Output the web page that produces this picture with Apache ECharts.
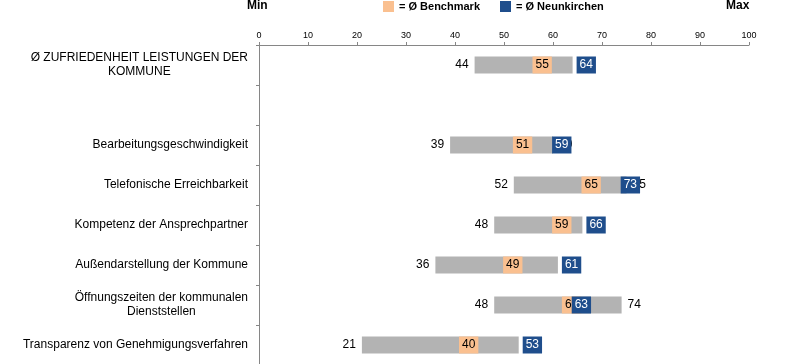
<!DOCTYPE html>
<html>
<head>
<meta charset="utf-8">
<script src="https://cdn.jsdelivr.net/npm/echarts@6/dist/echarts.min.js"></script>
<style>html,body{margin:0;padding:0;background:#fff}#c{width:800px;height:364px}</style>
</head>
<body>
<div id="c"></div>
<script>
const categories = ['Ø ZUFRIEDENHEIT LEISTUNGEN DER\nKOMMUNE', '', 'Bearbeitungsgeschwindigkeit', 'Telefonische Erreichbarkeit', 'Kompetenz der Ansprechpartner', 'Außendarstellung der Kommune', 'Öffnungszeiten der kommunalen\nDienststellen', 'Transparenz von Genehmigungsverfahren'];
const minValues = [44, null, 39, 52, 48, 36, 48, 21];
const maxValues = [64, null, 60, 75, 66, 61, 74, 53];
const benchmark = [55, null, 51, 65, 59, 49, 61, 40];
const neunkirchen = [64, null, 59, 73, 66, 61, 63, 53];
const xTicks = {min: 0, max: 100, interval: 10};
const seriesNames = ['= Ø Benchmark', '= Ø Neunkirchen'];

const FONT = '"Liberation Sans", Arial, sans-serif';
const chart = echarts.init(document.getElementById('c'), null, {renderer: 'canvas'});

const rangeData = minValues.map((m, i) => (m == null ? null : maxValues[i] - m));
const benchPts = benchmark.map((v, i) => (v == null ? null : [v, i])).filter(Boolean);
const ownPts = neunkirchen.map((v, i) => (v == null ? null : [v, i])).filter(Boolean);

chart.setOption({
  animation: false,
  textStyle: {fontFamily: FONT},
  grid: {left: 259, right: 51, top: 45, height: 320, containLabel: false, outerBoundsMode: 'none'},
  legend: {
    left: 383, top: 1, padding: 0, icon: 'rect', itemWidth: 11, itemHeight: 11, itemGap: 20,
    data: seriesNames,
    itemStyle: {opacity: 1},
    textStyle: {fontFamily: FONT, fontWeight: 'bold', fontSize: 11, color: '#000'}
  },
  graphic: [
    {type: 'text', left: 247, top: 0, style: {text: 'Min', font: 'bold 12px ' + FONT, fill: '#000'}},
    {type: 'text', left: 726, top: 0, style: {text: 'Max', font: 'bold 12px ' + FONT, fill: '#000'}}
  ],
  xAxis: {
    type: 'value', position: 'top', min: xTicks.min, max: xTicks.max, interval: xTicks.interval,
    axisLine: {show: true, lineStyle: {color: '#868686', width: 1}},
    axisTick: {show: true, length: 3, lineStyle: {color: '#868686'}},
    axisLabel: {fontSize: 9, color: '#000', margin: 5, fontFamily: FONT},
    splitLine: {show: false}
  },
  yAxis: {
    type: 'category', inverse: true, data: categories,
    axisLine: {show: true, lineStyle: {color: '#868686', width: 1}},
    axisTick: {show: true, length: 3, lineStyle: {color: '#868686'}},
    axisLabel: {
      margin: 11, color: '#000', fontSize: 12, fontFamily: FONT, lineHeight: 14,
      formatter: v => v.split('\n').map(s => '{c|' + s + '}').join('\n'),
      rich: {c: {align: 'center', fontSize: 12, lineHeight: 14, color: '#000', fontFamily: FONT}}
    },
    splitLine: {show: false}
  },
  series: [
    {
      type: 'bar', stack: 'r', data: minValues, barWidth: 17, z: 2,
      itemStyle: {color: 'rgba(0,0,0,0)'},
      label: {show: true, position: 'insideRight', distance: 6, fontSize: 12, color: '#000', fontFamily: FONT,
        formatter: p => (p.value == null ? '' : String(p.value))},
      emphasis: {disabled: true}
    },
    {
      type: 'bar', stack: 'r', data: rangeData, barWidth: 17, z: 2,
      itemStyle: {color: '#B3B3B3'},
      label: {show: true, position: 'right', distance: 6, fontSize: 12, color: '#000', fontFamily: FONT,
        formatter: p => (maxValues[p.dataIndex] == null ? '' : String(maxValues[p.dataIndex]))},
      emphasis: {disabled: true}
    },
    {
      name: seriesNames[0], type: 'scatter', data: benchPts, symbolSize: 0, z: 4,
      itemStyle: {color: '#FAC090', opacity: 1},
      label: {show: true, position: 'right', distance: 4, fontSize: 12, lineHeight: 13, color: '#000', fontFamily: FONT,
        backgroundColor: '#FAC090', padding: [2, 3, 2, 3], formatter: p => String(p.value[0])},
      emphasis: {disabled: true}
    },
    {
      name: seriesNames[1], type: 'scatter', data: ownPts, symbolSize: 0, z: 5,
      itemStyle: {color: '#1F4E8C', opacity: 1},
      label: {show: true, position: 'right', distance: 4, fontSize: 12, lineHeight: 13, color: '#fff', fontFamily: FONT,
        backgroundColor: '#1F4E8C', padding: [2, 3, 2, 3], formatter: p => String(p.value[0])},
      emphasis: {disabled: true}
    }
  ]
});
</script>
</body>
</html>
